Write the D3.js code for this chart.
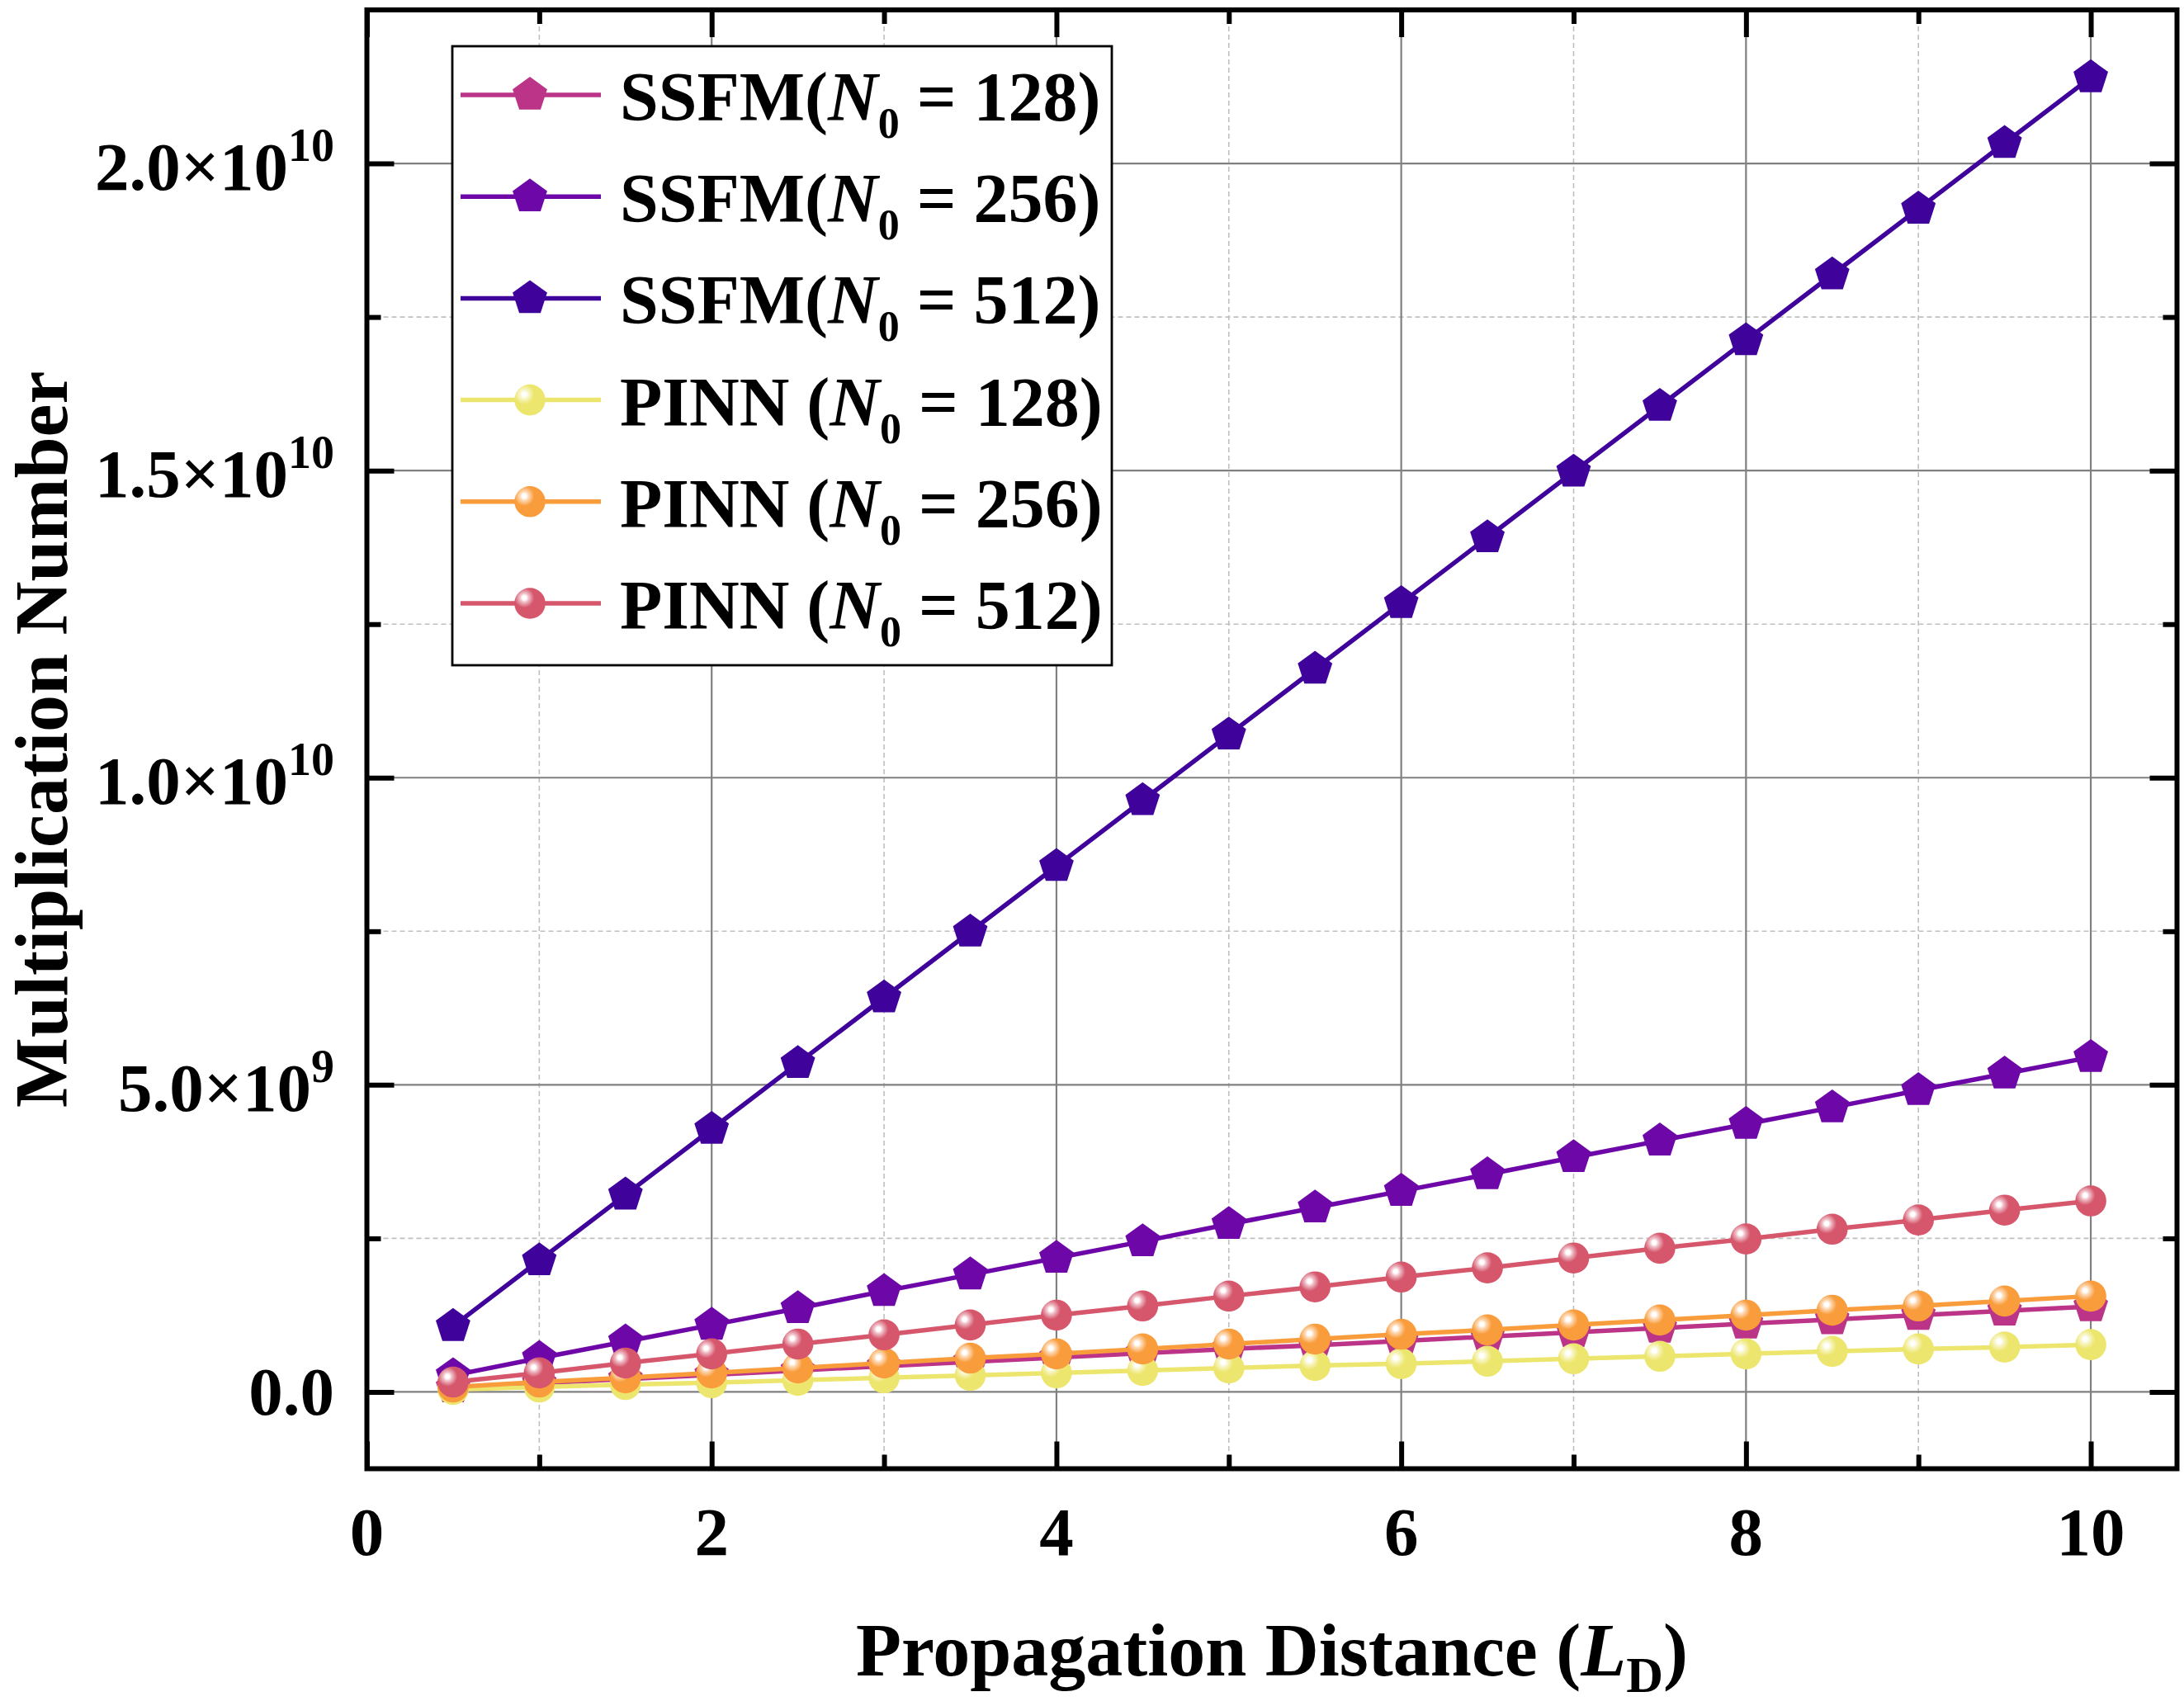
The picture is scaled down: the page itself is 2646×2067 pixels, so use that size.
<!DOCTYPE html>
<html>
<head>
<meta charset="utf-8">
<script src="https://cdn.jsdelivr.net/npm/d3@7/dist/d3.min.js"></script>
<style>
  html, body { margin: 0; padding: 0; background: #fff; }
  svg { display: block; }
  text { font-family: "Liberation Serif", "Times New Roman", serif; font-weight: bold; fill: #000; }
</style>
</head>
<body>
<svg id="chart" width="2646" height="2067"></svg>
<script>
// ---------------- data ----------------
const distance = [0.5, 1, 1.5, 2, 2.5, 3, 3.5, 4, 4.5, 5, 5.5, 6, 6.5, 7, 7.5, 8, 8.5, 9, 9.5, 10];

const ssfm128 = [0.07e9, 0.14e9, 0.21e9, 0.28e9, 0.35e9, 0.42e9, 0.49e9, 0.56e9, 0.63e9, 0.70e9,
                 0.76e9, 0.83e9, 0.90e9, 0.97e9, 1.04e9, 1.11e9, 1.18e9, 1.25e9, 1.32e9, 1.39e9];
const ssfm256 = [0.27e9, 0.55e9, 0.82e9, 1.09e9, 1.36e9, 1.64e9, 1.91e9, 2.18e9, 2.45e9, 2.73e9,
                 3.00e9, 3.27e9, 3.54e9, 3.82e9, 4.09e9, 4.36e9, 4.63e9, 4.91e9, 5.18e9, 5.45e9];
const ssfm512 = [1.07e9, 2.14e9, 3.21e9, 4.28e9, 5.35e9, 6.42e9, 7.49e9, 8.56e9, 9.63e9, 10.70e9,
                 11.77e9, 12.84e9, 13.91e9, 14.98e9, 16.05e9, 17.12e9, 18.19e9, 19.26e9, 20.33e9, 21.40e9];
const pinn128 = [0.04e9, 0.08e9, 0.12e9, 0.15e9, 0.19e9, 0.23e9, 0.27e9, 0.31e9, 0.35e9, 0.39e9,
                 0.43e9, 0.46e9, 0.50e9, 0.54e9, 0.58e9, 0.62e9, 0.66e9, 0.70e9, 0.73e9, 0.77e9];
const pinn256 = [0.08e9, 0.16e9, 0.23e9, 0.31e9, 0.39e9, 0.47e9, 0.55e9, 0.62e9, 0.70e9, 0.78e9,
                 0.86e9, 0.94e9, 1.01e9, 1.09e9, 1.17e9, 1.25e9, 1.33e9, 1.40e9, 1.48e9, 1.56e9];
const pinn512 = [0.16e9, 0.31e9, 0.47e9, 0.62e9, 0.78e9, 0.93e9, 1.09e9, 1.25e9, 1.40e9, 1.56e9,
                 1.71e9, 1.87e9, 2.02e9, 2.18e9, 2.34e9, 2.49e9, 2.65e9, 2.80e9, 2.96e9, 3.11e9];

const seriesNames = ["SSFM", "SSFM", "SSFM", "PINN ", "PINN ", "PINN "];
const seriesN0 = ["128", "256", "512", "128", "256", "512"];
const seriesValues = [ssfm128, ssfm256, ssfm512, pinn128, pinn256, pinn512];
const seriesMarkers = ["pentagon", "pentagon", "pentagon", "sphere", "sphere", "sphere"];
const seriesColors = ["#bb3488", "#6e07a8", "#3f039c", "#ede66e", "#f99c3c", "#d6566c"];

const xMajorTicks = [0, 2, 4, 6, 8, 10];
const xMinorTicks = [1, 3, 5, 7, 9];
const yMajorTicks = [0, 5e9, 1e10, 1.5e10, 2e10];
const yMinorTicks = [2.5e9, 7.5e9, 1.25e10, 1.75e10];
const yTickMantissa = ["0.0", "5.0×10", "1.0×10", "1.5×10", "2.0×10"];
const yTickExponent = ["", "9", "10", "10", "10"];

// ---------------- layout ----------------
const W = 2646, H = 2067;
const L = 444.5, R = 2637.5, T = 12, B = 1779.5;

const svg = d3.select("#chart");
svg.append("rect").attr("width", W).attr("height", H).attr("fill", "#fff");

const x = d3.scaleLinear().domain([0, 10.5]).range([L, R]);
const y = d3.scaleLinear().domain([-1.25e9, 22.5e9]).range([B, T]);

// gradients for sphere markers
const defs = svg.append("defs");
function mix(c, w) { return d3.interpolateRgb(d3.rgb(c), d3.rgb("#fff"))(w); }
seriesColors.forEach((c, i) => {
  const g = defs.append("radialGradient").attr("id", "sph" + i)
    .attr("cx", 0.32).attr("cy", 0.32).attr("r", 0.32).attr("fx", 0.32).attr("fy", 0.32);
  g.append("stop").attr("offset", 0).attr("stop-color", "#ffffff");
  g.append("stop").attr("offset", 0.2).attr("stop-color", "#ffffff");
  g.append("stop").attr("offset", 0.45).attr("stop-color", mix(c, 0.62));
  g.append("stop").attr("offset", 0.75).attr("stop-color", mix(c, 0.28));
  g.append("stop").attr("offset", 1).attr("stop-color", c);
});

// grid
const grid = svg.append("g");
grid.selectAll(".gxm").data(xMinorTicks).join("line")
  .attr("x1", d => x(d)).attr("x2", d => x(d)).attr("y1", T).attr("y2", B)
  .attr("stroke", "#c0c0c0").attr("stroke-width", 1.6).attr("stroke-dasharray", "6,4");
grid.selectAll(".gym").data(yMinorTicks).join("line")
  .attr("y1", d => y(d)).attr("y2", d => y(d)).attr("x1", L).attr("x2", R)
  .attr("stroke", "#c0c0c0").attr("stroke-width", 1.6).attr("stroke-dasharray", "6,4");
grid.selectAll(".gxM").data(xMajorTicks.filter(d => d > 0)).join("line")
  .attr("x1", d => x(d)).attr("x2", d => x(d)).attr("y1", T).attr("y2", B)
  .attr("stroke", "#808080").attr("stroke-width", 2.2);
grid.selectAll(".gyM").data(yMajorTicks).join("line")
  .attr("y1", d => y(d)).attr("y2", d => y(d)).attr("x1", L).attr("x2", R)
  .attr("stroke", "#808080").attr("stroke-width", 2.2);

// axes ticks (inward, on all sides)
function styleAxis(g) {
  g.select(".domain").remove();
  g.selectAll(".tick line").attr("stroke", "#000").attr("stroke-width", 6);
  g.selectAll(".tick text").remove();
}
const majLen = 33, minLen = 17;
svg.append("g").attr("transform", `translate(0,${B})`)
  .call(d3.axisBottom(x).tickValues(xMajorTicks).tickSize(-majLen).tickFormat("")).call(styleAxis);
svg.append("g").attr("transform", `translate(0,${B})`)
  .call(d3.axisBottom(x).tickValues(xMinorTicks).tickSize(-minLen).tickFormat("")).call(styleAxis);
svg.append("g").attr("transform", `translate(0,${T})`)
  .call(d3.axisTop(x).tickValues(xMajorTicks).tickSize(-majLen).tickFormat("")).call(styleAxis);
svg.append("g").attr("transform", `translate(0,${T})`)
  .call(d3.axisTop(x).tickValues(xMinorTicks).tickSize(-minLen).tickFormat("")).call(styleAxis);
svg.append("g").attr("transform", `translate(${L},0)`)
  .call(d3.axisLeft(y).tickValues(yMajorTicks).tickSize(-majLen).tickFormat("")).call(styleAxis);
svg.append("g").attr("transform", `translate(${L},0)`)
  .call(d3.axisLeft(y).tickValues(yMinorTicks).tickSize(-minLen).tickFormat("")).call(styleAxis);
svg.append("g").attr("transform", `translate(${R},0)`)
  .call(d3.axisRight(y).tickValues(yMajorTicks).tickSize(-majLen).tickFormat("")).call(styleAxis);
svg.append("g").attr("transform", `translate(${R},0)`)
  .call(d3.axisRight(y).tickValues(yMinorTicks).tickSize(-minLen).tickFormat("")).call(styleAxis);

// tick labels
svg.append("g").selectAll("text").data(xMajorTicks).join("text")
  .attr("x", d => x(d)).attr("y", 1884).attr("text-anchor", "middle")
  .attr("font-size", 83).text(d => d);

const yl = svg.append("g").selectAll("text").data(yMajorTicks).join("text")
  .attr("x", 405).attr("y", (d, i) => y(d) + (yTickExponent[i] ? 32 : 28))
  .attr("text-anchor", "end").attr("font-size", 83);
yl.append("tspan").text((d, i) => yTickMantissa[i]);
yl.append("tspan").attr("font-size", 56).attr("dy", -35).text((d, i) => yTickExponent[i]);

// axis titles
const xt = svg.append("text").attr("x", (L + R) / 2).attr("y", 2030)
  .attr("text-anchor", "middle").attr("font-size", 90);
xt.append("tspan").text("Propagation Distance (");
xt.append("tspan").attr("font-style", "italic").text("L");
xt.append("tspan").attr("font-size", 62).attr("dy", 20).text("D");
xt.append("tspan").attr("dy", -20).text(")");

svg.append("text").attr("transform", `translate(81,${(T + B) / 2}) rotate(-90)`)
  .attr("text-anchor", "middle").attr("font-size", 90).text("Multiplication Number");

// markers
const pentagonType = {
  draw(ctx, size) {
    const r = Math.sqrt(size);
    for (let k = 0; k < 5; k++) {
      const a = -Math.PI / 2 + k * 2 * Math.PI / 5;
      const px = r * Math.cos(a), py = r * Math.sin(a);
      if (k === 0) ctx.moveTo(px, py); else ctx.lineTo(px, py);
    }
    ctx.closePath();
  }
};
const pentPath = d3.symbol().type(pentagonType).size(22 * 22)();
const sphereR = 18.8;

function drawMarker(g, kind, i) {
  if (kind === "pentagon") {
    g.append("path").attr("d", pentPath).attr("fill", seriesColors[i]);
  } else {
    g.append("circle").attr("r", sphereR).attr("fill", `url(#sph${i})`);
  }
}

// series
const line = d3.line().x(d => x(d[0])).y(d => y(d[1]));
const plot = svg.append("g");
seriesValues.forEach((vals, i) => {
  const pts = distance.map((d, j) => [d, vals[j]]);
  const g = plot.append("g");
  g.append("path").attr("d", line(pts)).attr("fill", "none")
    .attr("stroke", seriesColors[i]).attr("stroke-width", 5.5).attr("stroke-linejoin", "round");
  pts.forEach(p => {
    const mg = g.append("g").attr("transform", `translate(${x(p[0])},${y(p[1])})`);
    drawMarker(mg, seriesMarkers[i], i);
  });
});

// frame
svg.append("rect").attr("x", L).attr("y", T).attr("width", R - L).attr("height", B - T)
  .attr("fill", "none").attr("stroke", "#000").attr("stroke-width", 6);

// legend
const lg = svg.append("g");
lg.append("rect").attr("x", 548).attr("y", 56).attr("width", 799).attr("height", 750)
  .attr("fill", "#fff").attr("stroke", "#000").attr("stroke-width", 2.8);
seriesValues.forEach((vals, i) => {
  const cy = 115 + i * 123.2;
  lg.append("line").attr("x1", 558).attr("x2", 728).attr("y1", cy).attr("y2", cy)
    .attr("stroke", seriesColors[i]).attr("stroke-width", 5.5);
  const mg = lg.append("g").attr("transform", `translate(642,${cy})`);
  drawMarker(mg, seriesMarkers[i], i);
  const t = lg.append("text").attr("x", 751).attr("y", cy + 31).attr("font-size", 84);
  t.append("tspan").text(seriesNames[i] + "(");
  t.append("tspan").attr("font-style", "italic").text("N");
  t.append("tspan").attr("font-size", 52).attr("dy", 21).text("0");
  t.append("tspan").attr("dy", -21).text(" = " + seriesN0[i] + ")");
});
</script>
</body>
</html>
